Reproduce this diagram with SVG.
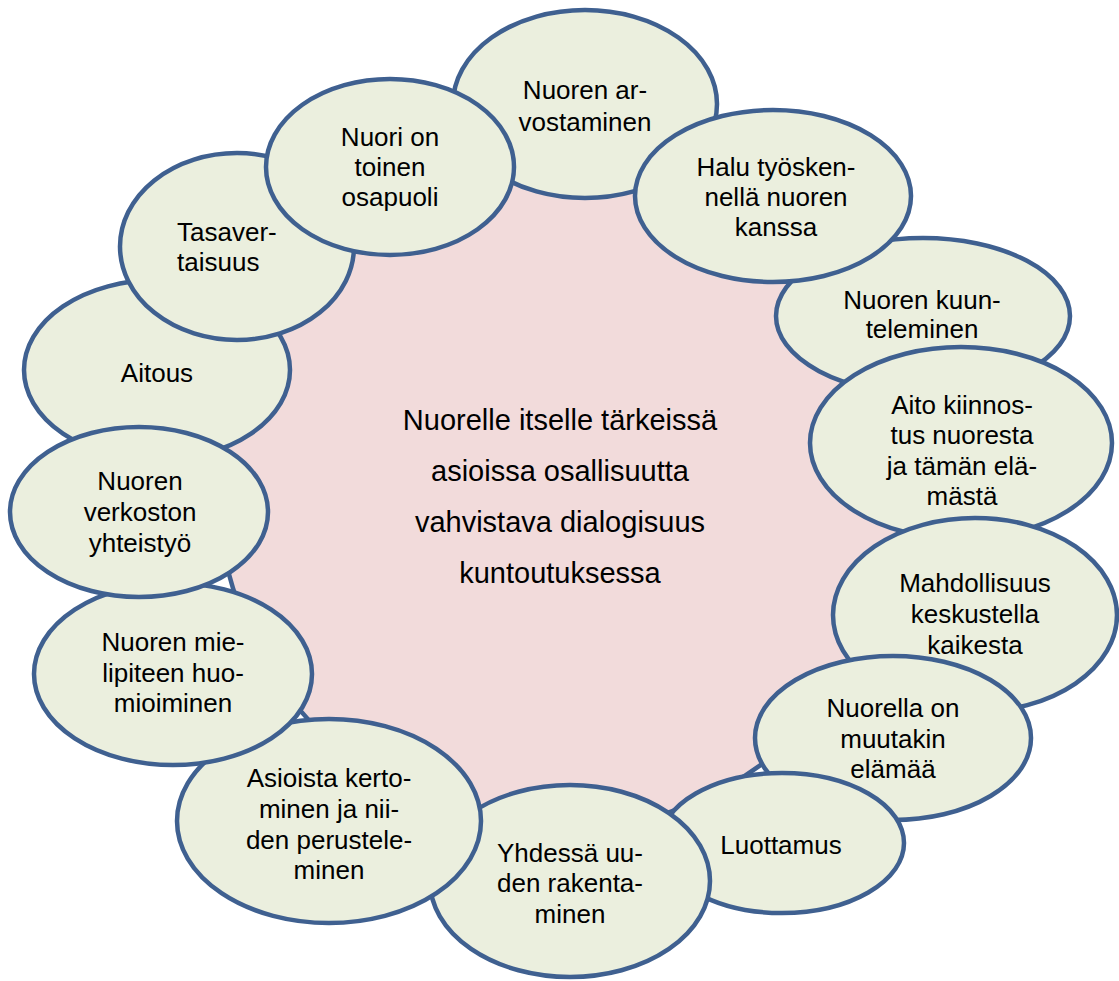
<svg xmlns="http://www.w3.org/2000/svg" width="1119" height="981" viewBox="0 0 1119 981">
<style>
.c{fill:#F2DBDB;stroke:#3F6090;stroke-width:4.5}
.e{fill:#EBEFDE;stroke:#3F6090;stroke-width:4.5}
text{font-family:"Liberation Sans",Arial,sans-serif;font-size:26px;fill:#000;text-anchor:middle}
.m{font-size:29px}
.l{text-anchor:start}
</style>
<rect width="1119" height="981" fill="#fff"/>
<g id="center">
<circle class="c" cx="560" cy="488" r="342"/>
<text class="m" x="560" y="430">Nuorelle itselle tärkeissä</text>
<text class="m" x="560" y="481">asioissa osallisuutta</text>
<text class="m" x="560" y="532">vahvistava dialogisuus</text>
<text class="m" x="560" y="583">kuntoutuksessa</text>
</g>
<g id="n-kuunteleminen">
<ellipse class="e" cx="923" cy="316" rx="147" ry="78"/>
<text x="922" y="309">Nuoren kuun-</text>
<text x="922" y="338">teleminen</text>
</g>
<g id="n-aito">
<ellipse class="e" cx="961" cy="443" rx="151" ry="96"/>
<text x="962" y="414">Aito kiinnos-</text>
<text x="962" y="444">tus nuoresta</text>
<text x="962" y="475">ja tämän elä-</text>
<text x="962" y="505">mästä</text>
</g>
<g id="n-mahdollisuus">
<ellipse class="e" cx="975" cy="615" rx="142" ry="97"/>
<text x="975" y="592">Mahdollisuus</text>
<text x="975" y="623">keskustella</text>
<text x="975" y="654">kaikesta</text>
</g>
<g id="n-nuorella">
<ellipse class="e" cx="893" cy="738" rx="138" ry="82"/>
<text x="893" y="717">Nuorella on</text>
<text x="893" y="748">muutakin</text>
<text x="893" y="778">elämää</text>
</g>
<g id="n-luottamus">
<ellipse class="e" cx="782" cy="843" rx="122" ry="70"/>
<text x="781" y="854">Luottamus</text>
</g>
<g id="n-yhdessa">
<ellipse class="e" cx="570" cy="881" rx="140" ry="96"/>
<text x="570" y="862">Yhdessä uu-</text>
<text x="570" y="892">den rakenta-</text>
<text x="570" y="923">minen</text>
</g>
<g id="n-asioista">
<ellipse class="e" cx="329" cy="821" rx="152" ry="102"/>
<text x="329" y="787">Asioista kerto-</text>
<text x="329" y="818">minen ja nii-</text>
<text x="329" y="849">den perustele-</text>
<text x="329" y="879">minen</text>
</g>
<g id="n-mielipiteen">
<ellipse class="e" cx="173" cy="674" rx="139" ry="91"/>
<text x="173" y="651">Nuoren mie-</text>
<text x="173" y="682">lipiteen huo-</text>
<text x="173" y="712">mioiminen</text>
</g>
<g id="n-arvostaminen">
<ellipse class="e" cx="585" cy="104" rx="132" ry="94"/>
<text x="585" y="99">Nuoren ar-</text>
<text x="585" y="131">vostaminen</text>
</g>
<g id="n-halu">
<ellipse class="e" cx="773" cy="196" rx="138" ry="86"/>
<text x="776" y="176">Halu työsken-</text>
<text x="776" y="206">nellä nuoren</text>
<text x="776" y="236">kanssa</text>
</g>
<g id="n-aitous">
<ellipse class="e" cx="157" cy="370" rx="133" ry="90"/>
<text x="157" y="382">Aitous</text>
</g>
<g id="n-tasavertaisuus">
<ellipse class="e" cx="237" cy="246.5" rx="117" ry="93.5"/>
<text class="l" x="177" y="241">Tasaver-</text>
<text class="l" x="177" y="271">taisuus</text>
</g>
<g id="n-nuori-on">
<ellipse class="e" cx="390" cy="167" rx="124" ry="88"/>
<text x="390" y="146">Nuori on</text>
<text x="390" y="176">toinen</text>
<text x="390" y="206">osapuoli</text>
</g>
<g id="n-verkoston">
<ellipse class="e" cx="139" cy="512" rx="129" ry="85"/>
<text x="140" y="490">Nuoren</text>
<text x="140" y="521">verkoston</text>
<text x="140" y="552">yhteistyö</text>
</g>
<g id="connectors"/>
</svg>
